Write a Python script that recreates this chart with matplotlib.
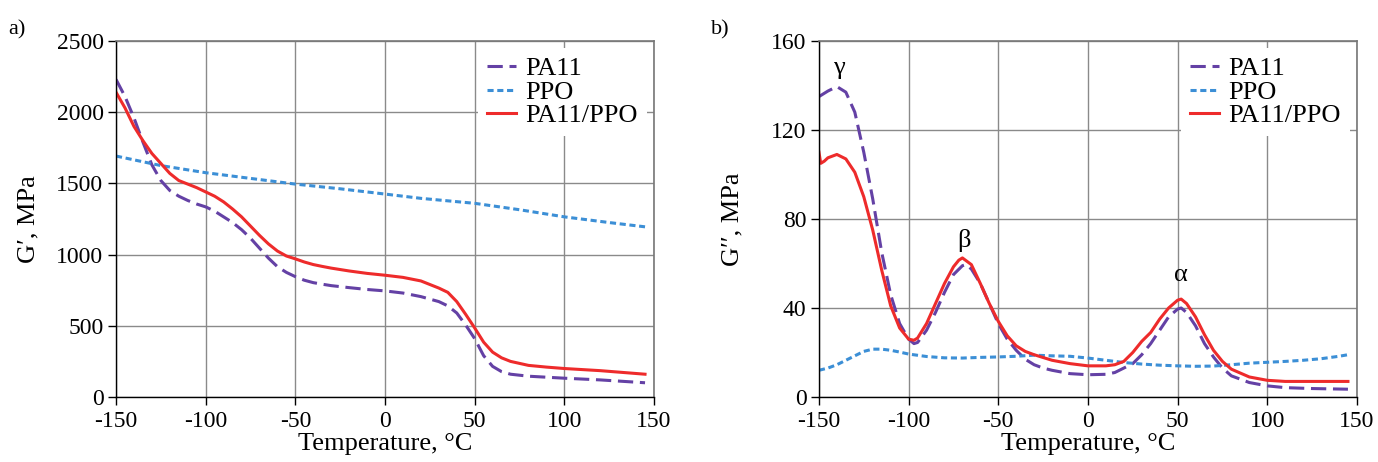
import matplotlib
matplotlib.use("Agg")
import matplotlib.pyplot as plt

plt.rcParams['font.family'] = ['Liberation Serif', 'DejaVu Serif']

# ---- Panel a) storage modulus G' ----
t_pa11_a = [-150, -145, -140, -135, -130, -125, -120, -115, -110, -105, -100, -95, -90, -85, -80,
            -75, -70, -65, -60, -55, -50, -45, -40, -35, -30, -20, -10, 0, 10, 20, 30, 35, 40,
            45, 50, 55, 60, 65, 70, 80, 90, 100, 120, 145]
g1_pa11 = [2230, 2110, 1960, 1790, 1630, 1520, 1450, 1410, 1380, 1355, 1335, 1305, 1265, 1225, 1175,
           1115, 1045, 975, 915, 875, 845, 820, 803, 792, 782, 768, 755, 745, 730, 705, 670, 640, 590,
           505, 410, 290, 215, 178, 160, 146, 139, 132, 120, 100]

t_blend_a = [-150, -145, -140, -135, -130, -125, -120, -115, -110, -105, -100, -95, -90, -85, -80,
             -75, -70, -65, -60, -55, -50, -45, -40, -35, -30, -20, -10, 0, 10, 20, 25, 30, 35, 40,
             45, 50, 55, 60, 65, 70, 80, 90, 100, 120, 145]
g1_blend = [2140, 2030, 1900, 1800, 1710, 1640, 1570, 1520, 1495, 1470, 1440, 1410, 1370, 1320, 1265,
            1200, 1135, 1075, 1025, 990, 970, 948, 930, 917, 905, 885, 868, 855, 840, 815, 790, 765, 735, 670,
            580, 485, 385, 315, 275, 250, 222, 210, 200, 185, 160]

t_ppo_a = [-150, -125, -100, -75, -50, -25, 0, 20, 50, 75, 100, 125, 145]
g1_ppo = [1692, 1625, 1575, 1535, 1495, 1462, 1425, 1395, 1360, 1315, 1265, 1225, 1195]

# ---- Panel b) loss modulus G'' ----
t_pa11_b = [-150, -145, -140, -135, -130, -125, -120, -115, -110, -105, -100, -97, -95, -90, -85, -80,
            -75, -70, -68, -65, -60, -55, -50, -45, -40, -35, -30, -25, -20, -10, 0, 10, 15, 20, 25,
            30, 35, 40, 45, 50, 52, 55, 60, 65, 70, 75, 80, 90, 100, 110, 125, 145]
g2_pa11 = [135, 137.5, 139.5, 137, 128, 110, 89, 65, 46, 33, 26, 24, 24.5, 30, 38, 47,
           55, 59, 59.5, 57.5, 51, 42, 33, 26, 21, 17, 14.5, 13, 12, 10.5, 10, 10.2, 11, 13, 15,
           19, 24, 30, 36, 39.5, 40, 38, 32, 24, 18, 13, 9.5, 6.5, 5, 4.2, 3.8, 3.5]

t_blend_b = [-150, -149, -147, -145, -140, -135, -130, -125, -120, -115, -110, -105, -100, -97, -95,
             -90, -85, -80, -75, -72, -70, -65, -60, -55, -50, -45, -40, -35, -30, -20, -10, 0, 10,
             15, 20, 25, 30, 35, 40, 45, 50, 52, 55, 60, 65, 70, 75, 80, 90, 100, 110, 125, 145]
g2_blend = [110, 105, 106, 107.5, 109, 107, 101, 90, 75, 57, 41, 31, 26, 25.5, 26.5,
            33, 42, 51, 58.5, 61.5, 62.5, 59.5, 51, 42, 34, 27.5, 23, 20.5, 19, 16.5, 15, 14, 14,
            14.5, 16, 20, 25, 29, 35, 40, 43.5, 44, 42, 36, 28, 21, 16, 12.5, 9, 7.5, 7, 7, 7]

t_ppo_b = [-150, -145, -140, -135, -130, -125, -120, -115, -110, -105, -100, -90, -80, -70, -60, -50,
           -40, -30, -20, -10, 0, 10, 20, 30, 40, 50, 60, 70, 80, 90, 100, 110, 120, 130, 140, 145]
g2_ppo = [12, 13, 14.5, 16.5, 18.5, 20.5, 21.5, 21.5, 21, 20.2, 19.3, 18.2, 17.6, 17.5, 17.8, 18,
          18.3, 18.8, 18.5, 18.3, 17.5, 16.5, 15.5, 14.8, 14.3, 14, 13.8, 13.9, 14.5, 15.2, 15.6, 16, 16.5, 17.2, 18.3, 19]

peak_labels = ['γ', 'β', 'α']
peak_x = [-139, -69, 52]
peak_y = [148, 70.5, 55]

x_ticks = [-150, -100, -50, 0, 50, 100, 150]
y_ticks_a = [0, 500, 1000, 1500, 2000, 2500]
y_ticks_b = [0, 40, 80, 120, 160]

C_PA11 = '#6441A5'
C_PPO = '#3C8FD6'
C_BLEND = '#EE2B2B'

fig = plt.figure(figsize=(13.78, 4.62), dpi=100)
ax1 = fig.add_axes([0.0842, 0.1407, 0.3904, 0.7706])
ax2 = fig.add_axes([0.5943, 0.1407, 0.3904, 0.7706])

FS = 17

def style(ax, yticks, ylabel, ylpad):
    ax.set_xlim(-150, 150)
    ax.set_ylim(yticks[0], yticks[-1])
    ax.set_xticks(x_ticks)
    ax.set_yticks(yticks)
    ax.set_xticklabels([str(v) for v in x_ticks])
    ax.grid(True, color='#8a8a8a', linewidth=1.0)
    ax.set_axisbelow(True)
    for s in ['top', 'right']:
        ax.spines[s].set_color('#777777')
        ax.spines[s].set_linewidth(1.2)
    for s in ['left', 'bottom']:
        ax.spines[s].set_color('black')
        ax.spines[s].set_linewidth(1.0)
    ax.tick_params(axis='both', direction='out', length=6, width=1.0, labelsize=FS)
    ax.tick_params(axis='x', pad=4)
    ax.tick_params(axis='y', pad=3)
    ax.set_xlabel('Temperature, °C', fontsize=FS + 2, labelpad=1)
    ax.set_ylabel(ylabel, fontsize=FS + 2, labelpad=ylpad)

ax1.plot(t_pa11_a, g1_pa11, color=C_PA11, lw=2.2, dashes=(5, 2.2), label='PA11')
ax1.plot(t_ppo_a, g1_ppo, color=C_PPO, lw=2.2, dashes=(2, 1.2), label='PPO')
ax1.plot(t_blend_a, g1_blend, color=C_BLEND, lw=2.2, label='PA11/PPO')
style(ax1, y_ticks_a, 'G′, MPa', 12)

ax2.plot(t_pa11_b, g2_pa11, color=C_PA11, lw=2.2, dashes=(5, 2.2), label='PA11')
ax2.plot(t_ppo_b, g2_ppo, color=C_PPO, lw=2.2, dashes=(2, 1.2), label='PPO')
ax2.plot(t_blend_b, g2_blend, color=C_BLEND, lw=2.2, label='PA11/PPO')
style(ax2, y_ticks_b, 'G′′, MPa', 20)

for lab, px, py in zip(peak_labels, peak_x, peak_y):
    ax2.text(px, py, lab, fontsize=FS + 2, ha='center', va='center')

for ax in (ax1, ax2):
    ax.legend(loc='upper right', fontsize=FS + 2, frameon=True, fancybox=False,
              edgecolor='none', facecolor='white', framealpha=1.0,
              handlelength=1.1, handletextpad=0.35, labelspacing=0.0,
              borderaxespad=0.25, borderpad=0.35)

fig.text(0.006, 0.925, 'a)', fontsize=FS - 1)
fig.text(0.516, 0.925, 'b)', fontsize=FS - 1)

fig.savefig('out.png', dpi=100)
